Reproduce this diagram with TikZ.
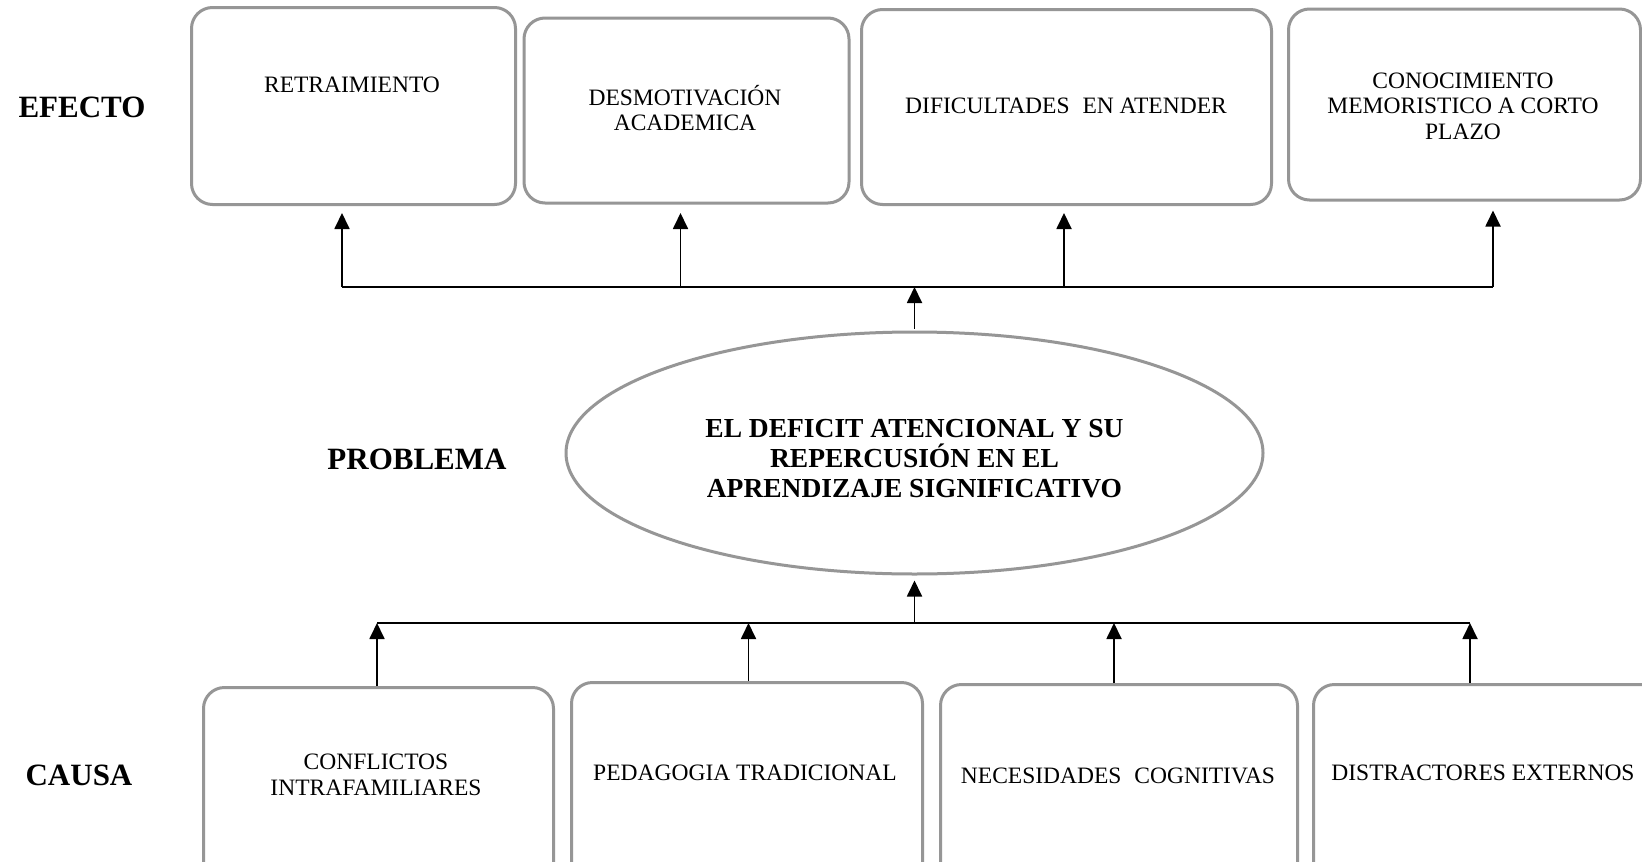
\documentclass[tikz,border=0pt]{standalone}
\usepackage{fontspec}
\setmainfont{Liberation Serif}
\usetikzlibrary{arrows.meta,shapes.geometric}
\definecolor{boxgray}{RGB}{150,150,150}
\begin{document}
\begin{tikzpicture}[x=1pt,y=-1pt,
  box/.style={draw=boxgray,line width=3pt,rounded corners=21pt,inner sep=0pt,anchor=north west},
  txt/.style={inner sep=0pt,align=center,font=\fontsize{23.5}{25.5}\selectfont},
  lbl/.style={inner sep=0pt,font=\fontsize{31}{36}\selectfont\bfseries},
  arr/.style={line width=1.8pt,-{Triangle[width=15pt,length=16pt]}},
  bar/.style={line width=2pt}]
\useasboundingbox (0,0) rectangle (1642,862);
\clip (0,0) rectangle (1642,862);
\fill[white] (0,0) rectangle (1642,862);

% effect boxes
\node[box,minimum width=324pt,minimum height=197pt] (b1) at (190,6) {};
\node[box,minimum width=325pt,minimum height=185pt] (b2) at (522.5,16.5) {};
\node[box,minimum width=410pt,minimum height=195pt] (b3) at (860,8) {};
\node[box,minimum width=352pt,minimum height=191pt] (b4) at (1287,7.5) {};
\node[txt] (t1) at (352,85) {RETRAIMIENTO};
\node[txt] (t2) at (685,108) {DESMOTIVACIÓN\\ACADEMICA};
\node[txt] (t3) at (1066,106) {DIFICULTADES\hspace{0.3em} EN ATENDER};
\node[txt] (t4) at (1463,106) {CONOCIMIENTO\\MEMORISTICO A CORTO\\PLAZO};

% cause boxes
\node[box,minimum width=350pt,minimum height=240pt] (b5) at (202,686) {};
\node[box,minimum width=351pt,minimum height=240pt] (b6) at (570,681) {};
\node[box,minimum width=357pt,minimum height=240pt] (b7) at (939,683) {};
\node[box,minimum width=380pt,minimum height=240pt] (b8) at (1312,683) {};
\node[txt] (t5) at (376,775) {CONFLICTOS\\INTRAFAMILIARES};
\node[txt] (t6) at (745,773) {PEDAGOGIA TRADICIONAL};
\node[txt] (t7) at (1118,776) {NECESIDADES\hspace{0.3em} COGNITIVAS};
\node[txt] (t8) at (1483,773) {DISTRACTORES EXTERNOS};

% problem ellipse
\node[ellipse,draw=boxgray,line width=3pt,minimum width=697pt,minimum height=242pt,inner sep=0pt] (ell) at (914.5,453) {};
\node[inner sep=0pt,align=center,font=\fontsize{27.5}{30}\selectfont\bfseries] (ellt) at (914.5,459)
      {EL DEFICIT ATENCIONAL Y SU\\REPERCUSIÓN EN EL\\APRENDIZAJE SIGNIFICATIVO};

% side labels
\node[lbl] (efecto) at (82,107) {EFECTO};
\node[lbl] (problema) at (417,459) {PROBLEMA};
\node[lbl] (causa) at (79,775) {CAUSA};

% top bar and arrows
\coordinate (a1) at (342,287);
\coordinate (a2) at (680.5,287);
\coordinate (a3) at (1064,287);
\coordinate (a4) at (1493,287);
\coordinate (am) at (914.5,287);
\draw[bar] (a1) -- (a4);
\draw[arr] (a1) -- ([yshift=-7pt]b1.south -| a1);
\draw[arr] (a2) -- ([yshift=-7pt]b1.south -| a2);
\draw[arr] (a3) -- ([yshift=-7pt]b1.south -| a3);
\draw[arr] (a4) -- ([yshift=-9pt]b4.south -| a4);
\draw[arr] ([yshift=2pt]ell.north) -- (am);

% bottom bar and arrows
\coordinate (c1) at (377,623);
\coordinate (c2) at (748.5,623);
\coordinate (c3) at (1114,623);
\coordinate (c4) at (1470,623);
\coordinate (cm) at (914.5,623);
\draw[bar] (c1) -- (c4);
\draw[arr] (b5.north -| c1) -- (c1);
\draw[arr] (b6.north -| c2) -- (c2);
\draw[arr] (b7.north -| c3) -- (c3);
\draw[arr] (b8.north -| c4) -- (c4);
\draw[arr] (cm) -- ([yshift=-5pt]ell.south);
\end{tikzpicture}
\end{document}
